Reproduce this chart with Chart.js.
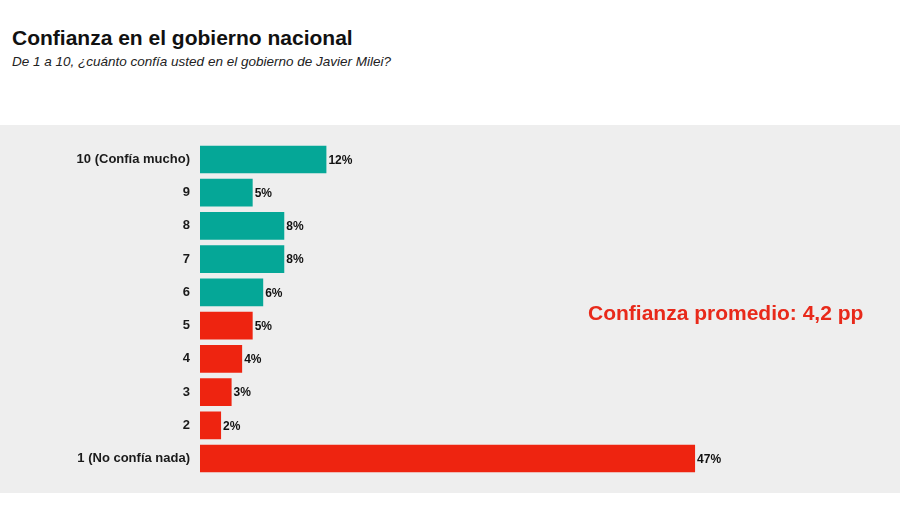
<!DOCTYPE html>
<html>
<head>
<meta charset="utf-8">
<script src="https://cdn.jsdelivr.net/npm/chart.js@4"></script>
<style>
  body { margin: 0; background: #fff; font-family: "Liberation Sans", Arial, sans-serif; }
  .wrap { position: relative; width: 900px; height: 505px; overflow: hidden; }
  h1 { position: absolute; left: 12px; top: 26px; margin: 0; font-size: 21px; font-weight: bold; color: #111; }
  .sub { position: absolute; left: 12px; top: 54px; font-size: 13.5px; font-style: italic; color: #222; }
  .panel { position: absolute; left: 0; top: 125px; width: 900px; height: 368px; background: #eeeeee; }
  .avg { position: absolute; left: 588px; top: 301px; font-size: 21px; font-weight: bold; color: #e8291a; }
</style>
</head>
<body>
<div class="wrap">
  <h1>Confianza en el gobierno nacional</h1>
  <div class="sub">De 1 a 10, ¿cuánto confía usted en el gobierno de Javier Milei?</div>
  <div class="panel"><canvas id="chart" width="900" height="368"></canvas></div>
  <div class="avg">Confianza promedio: 4,2 pp</div>
</div>
<script>
// Data
const categories = ['10 (Confía mucho)', '9', '8', '7', '6', '5', '4', '3', '2', '1 (No confía nada)'];
const values = [12, 5, 8, 8, 6, 5, 4, 3, 2, 47];
const barColors = ['#05a797', '#05a797', '#05a797', '#05a797', '#05a797',
                   '#ee2410', '#ee2410', '#ee2410', '#ee2410', '#ee2410'];

// draw the % next to each bar
const valueLabels = {
    id: 'valueLabels',
    afterDatasetsDraw(chart) {
        const ctx = chart.ctx;
        const meta = chart.getDatasetMeta(0);
        ctx.save();
        ctx.font = 'bold 12px "Liberation Sans", Arial, sans-serif';
        ctx.fillStyle = '#111';
        ctx.textAlign = 'left';
        ctx.textBaseline = 'middle';
        meta.data.forEach((bar, i) => {
            ctx.fillText(values[i] + '%', bar.x + 2, bar.y + 1);
        });
        ctx.restore();
    }
};

new Chart(document.getElementById('chart').getContext('2d'), {
    type: 'bar',
    data: {
        labels: categories,
        datasets: [{
            data: values,
            backgroundColor: barColors,
            borderWidth: 0,
            categoryPercentage: 1,
            barPercentage: 0.83
        }]
    },
    options: {
        indexAxis: 'y',
        responsive: false,
        animation: false,
        layout: { padding: { top: 16, bottom: 13, left: 0, right: 68 } },
        plugins: {
            legend: { display: false },
            tooltip: { enabled: false }
        },
        scales: {
            x: {
                display: false,
                min: 0,
                max: 60
            },
            y: {
                grid: { display: false, drawTicks: false },
                border: { display: false },
                afterFit(scale) { scale.width = 200; },
                ticks: {
                    padding: 10,
                    color: '#1a1a1a',
                    font: { family: '"Liberation Sans", Arial, sans-serif', size: 13, weight: 'bold' }
                }
            }
        }
    },
    plugins: [valueLabels]
});
</script>
</body>
</html>
